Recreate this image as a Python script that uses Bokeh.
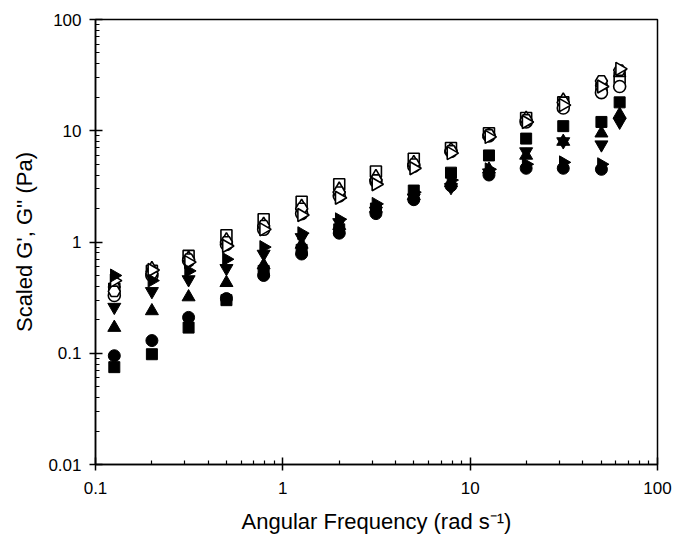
import numpy as np
from bokeh.plotting import figure
from bokeh.models import FixedTicker
from bokeh.embed import file_html
from bokeh.resources import INLINE

nan = float("nan")

# Angular frequency (rad/s)
freq = [0.126, 0.2, 0.314, 0.5, 0.79, 1.26, 2.0, 3.14, 5.0, 7.9, 12.6, 19.9, 31.4, 50.2, 62.8]

# Filled symbols (G')
g1_square = [0.075, 0.098, 0.17, 0.30, 0.55, 0.85, 1.3, 2.0, 2.9, 4.2, 6.0, 8.5, 11.0, 12.0, 18.0]
g1_circle = [0.095, 0.13, 0.21, 0.31, 0.50, 0.78, 1.2, 1.8, 2.4, 3.2, 4.0, 4.6, 4.6, 4.5, nan]
g1_tri_up = [0.17, 0.24, 0.32, 0.43, 0.62, 0.95, 1.4, 2.0, 2.6, 3.4, 4.5, 6.0, 8.0, 9.5, 14.0]
g1_tri_down = [0.26, 0.36, 0.46, 0.58, 0.78, 1.1, 1.5, 1.9, 2.5, 3.1, 4.2, 6.5, 8.0, 7.5, 12.0]
g1_tri_right = [0.50, 0.45, 0.55, 0.70, 0.90, 1.2, 1.6, 2.2, 2.8, 3.6, 4.5, 5.0, 5.2, 5.0, nan]

# Open symbols (G'')
g2_square = [0.38, 0.55, 0.75, 1.15, 1.6, 2.3, 3.3, 4.3, 5.6, 7.0, 9.5, 13.0, 18.0, 24.0, 30.0]
g2_circle = [0.33, 0.50, 0.68, 0.95, 1.3, 1.8, 2.6, 3.5, 4.8, 6.5, 9.0, 12.0, 16.0, 22.0, 25.0]
g2_tri_up = [0.42, 0.58, 0.72, 1.05, 1.45, 2.1, 3.0, 3.9, 5.2, 6.8, 9.3, 13.0, 19.0, 27.0, 33.0]
g2_hex = [0.36, 0.52, 0.70, 1.0, 1.4, 2.0, 2.8, 3.6, 5.0, 6.6, 9.2, 12.5, 18.0, 28.0, 35.0]
g2_tri_right = [0.45, 0.56, 0.66, 0.92, 1.3, 1.75, 2.5, 3.3, 4.6, 6.3, 8.8, 12.0, 17.0, 25.0, 36.0]

x_ticks = [0.1, 1, 10, 100]
x_labels = ["0.1", "1", "10", "100"]
y_ticks = [0.01, 0.1, 1, 10, 100]
y_labels = ["0.01", "0.1", "1", "10", "100"]

FONT = "Liberation Sans"

p = figure(width=681, height=545, x_axis_type="log", y_axis_type="log",
           x_range=(0.1, 100), y_range=(0.01, 100),
           output_backend="svg", toolbar_location=None,
           min_border_left=95, min_border_right=24,
           min_border_top=19, min_border_bottom=81)

p.xgrid.visible = False
p.ygrid.visible = False
p.outline_line_color = "black"
p.outline_line_width = 1.5
p.background_fill_color = "white"
p.border_fill_color = "white"


def minors(lo, hi):
    out = []
    for d in range(lo, hi):
        for k in range(2, 10):
            out.append(k * 10.0 ** d)
    return out


for ax, ticks, labels, mins in ((p.xaxis[0], x_ticks, x_labels, minors(-1, 2)),
                                (p.yaxis[0], y_ticks, y_labels, minors(-2, 2))):
    ax.ticker = FixedTicker(ticks=ticks, minor_ticks=mins)
    ax.major_label_overrides = {t: l for t, l in zip(ticks, labels)}
    ax.axis_line_width = 1.5
    ax.axis_line_color = "black"
    ax.major_tick_line_width = 1.5
    ax.major_tick_in = 7
    ax.major_tick_out = 6
    ax.minor_tick_in = 4
    ax.minor_tick_out = 0
    ax.minor_tick_line_width = 1.2
    ax.major_label_text_font = FONT
    ax.major_label_text_font_size = "17px"
    ax.major_label_text_color = "black"
    ax.axis_label_text_font = FONT
    ax.axis_label_text_font_size = "22px"
    ax.axis_label_text_font_style = "normal"
    ax.axis_label_text_color = "black"

p.xaxis.major_label_standoff = 11
p.yaxis.major_label_standoff = 8
p.xaxis.axis_label = "Angular Frequency (rad s\u207b\u00b9)"
p.yaxis.axis_label = "Scaled G', G'' (Pa)"
p.xaxis.axis_label_standoff = 12
p.yaxis.axis_label_standoff = 8

S = 12
filled = [
    (g1_square, "square", 0, S - 1),
    (g1_circle, "circle", 0, S),
    (g1_tri_up, "triangle", 0, S + 1),
    (g1_tri_down, "inverted_triangle", 0, S + 1),
    (g1_tri_right, "triangle", -90, S + 1),
]
opened = [
    (g2_square, "square", 0, S - 1),
    (g2_circle, "circle", 0, S),
    (g2_tri_up, "triangle", 0, S),
    (g2_hex, "hex", 0, S),
    (g2_tri_right, "triangle", -90, S + 1),
]

for vals, mk, ang, sz in opened:
    p.scatter(freq, vals, marker=mk, size=sz, angle=ang, angle_units="deg",
              fill_color="white", line_color="black", line_width=1.6)
for vals, mk, ang, sz in filled:
    p.scatter(freq, vals, marker=mk, size=sz, angle=ang, angle_units="deg",
              fill_color="black", line_color="black", line_width=1)

open("out.html", "w").write(file_html(p, INLINE))
